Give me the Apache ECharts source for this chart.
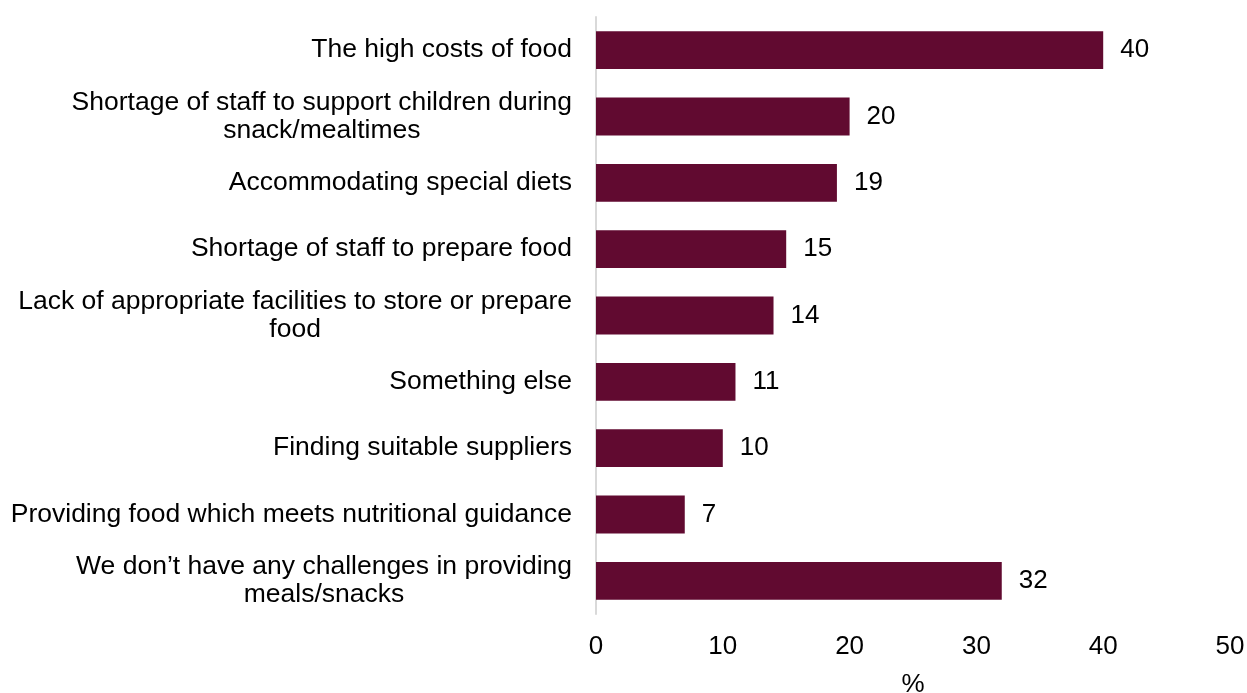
<!DOCTYPE html>
<html>
<head>
<meta charset="utf-8">
<style>
  html, body { margin: 0; padding: 0; background: #ffffff; }
  #chart { width: 1247px; height: 693px; }
</style>
<script src="https://cdn.jsdelivr.net/npm/echarts@6/dist/echarts.min.js"></script>
</head>
<body>
<div id="chart"></div>
<script>
// Challenges in providing meals and snacks (% of settings)
const categories = [
  'The high costs of food',
  'Shortage of staff to support children during\nsnack/mealtimes',
  'Accommodating special diets',
  'Shortage of staff to prepare food',
  'Lack of appropriate facilities to store or prepare\nfood',
  'Something else',
  'Finding suitable suppliers',
  'Providing food which meets nutritional guidance',
  'We don\u2019t have any challenges in providing\nmeals/snacks'
];
const values = [40, 20, 19, 15, 14, 11, 10, 7, 32];
const xTicks = { min: 0, max: 50, interval: 10 };
const axisTitle = '%';

const FONT = "'Liberation Sans', Arial, sans-serif";
const BAR_COLOR = '#610A30';

const chart = echarts.init(document.getElementById('chart'), null, { renderer: 'canvas' });

chart.setOption({
  animation: false,
  backgroundColor: '#ffffff',
  textStyle: { fontFamily: FONT },
  grid: {
    left: 596, right: 17, top: 17, bottom: 79,
    containLabel: false,
    outerBoundsMode: 'none'
  },
  xAxis: {
    type: 'value',
    min: xTicks.min,
    max: xTicks.max,
    interval: xTicks.interval,
    name: axisTitle,
    nameLocation: 'middle',
    nameGap: 58,
    nameTextStyle: { color: '#000000', fontSize: 26, fontFamily: FONT },
    axisLine: { show: false },
    axisTick: { show: false },
    splitLine: { show: false },
    axisLabel: { color: '#000000', fontSize: 26, fontFamily: FONT, margin: 20 }
  },
  yAxis: {
    type: 'category',
    data: categories,
    inverse: true,
    axisLine: { show: true, lineStyle: { color: '#d9d9d9', width: 2 } },
    axisTick: { show: false },
    splitLine: { show: false },
    axisLabel: {
      margin: 24,
      align: 'right',
      formatter: function (v) { return '{c|' + v + '}'; },
      rich: {
        c: {
          align: 'center',
          color: '#000000',
          fontSize: 26.5,
          fontFamily: FONT,
          lineHeight: 28
        }
      }
    }
  },
  series: [{
    type: 'bar',
    data: values,
    barWidth: '57%',
    itemStyle: { color: BAR_COLOR },
    label: {
      show: true,
      position: 'right',
      distance: 17,
      color: '#000000',
      fontSize: 26,
      fontFamily: FONT
    }
  }]
});
</script>
</body>
</html>
